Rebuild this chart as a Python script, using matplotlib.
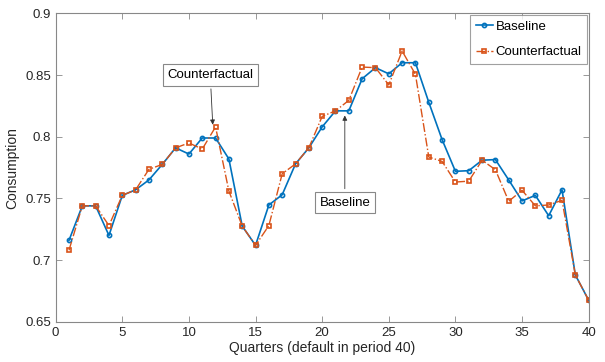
import matplotlib.pyplot as plt
import numpy as np

plt.rcParams['font.family'] = ['Liberation Sans', 'DejaVu Sans']

quarters = np.arange(1, 41)
baseline = [0.716, 0.744, 0.744, 0.720, 0.7525, 0.757, 0.765, 0.7776, 0.791, 0.786,
            0.799, 0.799, 0.782, 0.7276, 0.712, 0.7447, 0.753, 0.778, 0.791, 0.808,
            0.821, 0.821, 0.847, 0.856, 0.851, 0.860, 0.860, 0.828, 0.7977, 0.772,
            0.7725, 0.781, 0.7815, 0.765, 0.748, 0.7525, 0.736, 0.757, 0.688, 0.6675]
counterfactual = [0.708, 0.744, 0.744, 0.728, 0.7525, 0.757, 0.7736, 0.7776, 0.791, 0.795,
                  0.790, 0.808, 0.756, 0.7276, 0.712, 0.728, 0.770, 0.778, 0.791, 0.8165,
                  0.821, 0.8295, 0.8565, 0.856, 0.842, 0.8695, 0.8506, 0.7836, 0.780, 0.7633,
                  0.764, 0.781, 0.7733, 0.7477, 0.7566, 0.744, 0.7447, 0.7485, 0.688, 0.6675]

blue = '#0072BD'
orange = '#D95319'
edge = '#888888'

fig = plt.figure(figsize=(6.05, 3.62), dpi=100)
ax = fig.add_axes([0.092, 0.111, 0.881, 0.852])

ax.plot(quarters, baseline, '-o', color=blue, lw=1.2, ms=3.0, mfc='none', mew=1.2,
        label='Baseline')
ax.plot(quarters, counterfactual, '-.s', color=orange, lw=1.0, ms=2.8, mfc='none', mew=1.2,
        label='Counterfactual')

ax.set_xlim(0, 40)
ax.set_ylim(0.65, 0.9)
ax.set_xticks(np.arange(0, 41, 5))
ax.set_yticks([0.65, 0.7, 0.75, 0.8, 0.85, 0.9])
ax.set_yticklabels(['0.65', '0.7', '0.75', '0.8', '0.85', '0.9'])
ax.tick_params(direction='in', top=True, right=True, labelsize=9.5, colors='#262626',
               length=4, width=0.6)
for sp in ax.spines.values():
    sp.set_color(edge)
    sp.set_linewidth(0.8)
ax.tick_params(color=edge)

ax.set_xlabel('Quarters (default in period 40)', fontsize=10, color='#262626', labelpad=2)
ax.set_ylabel('Consumption', fontsize=10, color='#262626', labelpad=4)

box = dict(boxstyle='square,pad=0.35', fc='white', ec=edge, lw=0.8)
arrow = dict(arrowstyle='-|>', color='#333333', lw=0.6, mutation_scale=7)
ax.annotate('Counterfactual', xy=(11.8, 0.8075), xytext=(11.6, 0.850),
            ha='center', va='center', fontsize=9.5, bbox=box, arrowprops=arrow)
ax.annotate('Baseline', xy=(21.7, 0.8195), xytext=(21.7, 0.7467),
            ha='center', va='center', fontsize=9.5, bbox=box, arrowprops=arrow)

leg = ax.legend(loc='upper right', fontsize=9.5, frameon=True, fancybox=False,
                edgecolor=edge, handlelength=1.3, handletextpad=0.2,
                labelspacing=1.0, borderaxespad=0.15)
leg.get_frame().set_linewidth(0.8)

fig.savefig('out.png', dpi=100)
